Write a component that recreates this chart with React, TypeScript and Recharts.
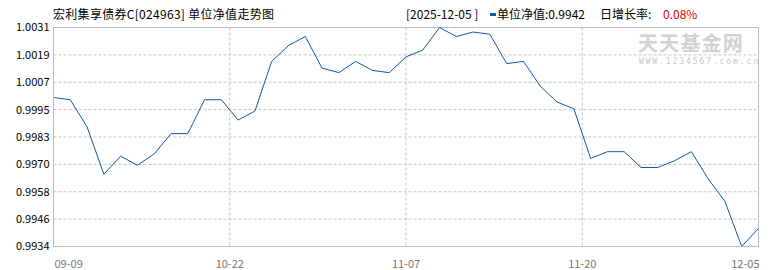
import React from 'react';
import { LineChart, Line, XAxis, YAxis, CartesianGrid, ReferenceArea } from 'recharts';

const dates = [
  '09-09', '09-12', '09-16', '09-19', '09-23', '09-26', '09-30', '10-10', '10-15', '10-17',
  '10-21', '10-22', '10-24', '10-27', '10-28', '10-29', '10-30', '10-31', '11-03', '11-04',
  '11-05', '11-07', '11-08', '11-10', '11-11', '11-12', '11-13', '11-14', '11-17', '11-18',
  '11-19', '11-20', '11-21', '11-24', '11-25', '11-26', '11-27', '11-28', '12-01', '12-02',
  '12-03', '12-04', '12-05',
];

const navValues = [
  1.0000, 0.9999, 0.9987, 0.9966, 0.9974, 0.9970, 0.9975, 0.9984, 0.9984, 0.9999,
  0.9999, 0.9990, 0.9994, 1.0016, 1.0023, 1.0027, 1.0013, 1.0011, 1.0016, 1.0012,
  1.0011, 1.0018, 1.0021, 1.0031, 1.0027, 1.0029, 1.0028, 1.0015, 1.0016, 1.0005,
  0.9998, 0.9995, 0.9973, 0.9976, 0.9976, 0.9969, 0.9969, 0.9972, 0.9976, 0.9964,
  0.9954, 0.9934, 0.9942,
];

const xTickPositions = [0, 10.5, 21, 31.5, 42];
const xTickLabels = ['09-09', '10-22', '11-07', '11-20', '12-05'];

const titleText = '宏利集享债券C[024963] 单位净值走势图';
const headerDate = '[2025-12-05 ]';
const headerNavLabel = '单位净值:';
const headerNav = '0.9942';
const headerRateLabel = '日增长率:';
const headerRate = '0.08%';

const data = navValues.map((v, i) => ({ i, date: dates[i], nav: v }));
const yMin = Math.min(...navValues);
const yMax = Math.max(...navValues);
const yTicks = Array.from({ length: 9 }, (_, k) => yMin + (k * (yMax - yMin)) / 8);

const FONT = '"Noto Sans CJK SC", "DejaVu Sans", sans-serif';
const GRID = '#c4c4c4';
const BORDER = '#bdbdbd';
const LINE = '#0b5aa9';

const XTick = (props: any) => {
  const { x, y, payload, index } = props;
  const last = xTickPositions.length - 1;
  const anchor = index === 0 ? 'start' : index === last ? 'end' : 'middle';
  const label = xTickLabels[xTickPositions.indexOf(payload.value)];
  return (
    <text x={x + (index === 0 ? 1 : index === last ? 1 : 0)} y={y + 13} textAnchor={anchor}
      fill="#777" fontSize={11} fontFamily={FONT}>
      {label}
    </text>
  );
};

export default function App() {
  return (
    <div style={{ position: 'relative', width: 770, height: 270, fontFamily: FONT, background: '#fff' }}>
      <style>{'body{margin:0}'}</style>
      <div style={{ position: 'absolute', left: 53, top: 6, fontSize: 12, lineHeight: '16px', color: '#000', whiteSpace: 'nowrap', letterSpacing: 0.3 }}>
        {titleText}
      </div>
      <div style={{ position: 'absolute', left: 406, top: 6, fontSize: 12, lineHeight: '16px', color: '#000', whiteSpace: 'nowrap' }}>
        {headerDate}
      </div>
      <div style={{ position: 'absolute', left: 490, top: 13, width: 6, height: 3, background: LINE }} />
      <div style={{ position: 'absolute', left: 497, top: 6, fontSize: 12, lineHeight: '16px', color: '#000', whiteSpace: 'nowrap' }}>
        {headerNavLabel}{headerNav}
      </div>
      <div style={{ position: 'absolute', left: 600, top: 6, fontSize: 12, lineHeight: '16px', color: '#000', whiteSpace: 'nowrap' }}>
        {headerRateLabel}
      </div>
      <div style={{ position: 'absolute', left: 663, top: 6, fontSize: 12, lineHeight: '16px', color: '#e00000', whiteSpace: 'nowrap' }}>
        {headerRate}
      </div>
      <LineChart width={770} height={270} data={data}
        margin={{ top: 27.5, right: 11.5, bottom: 0.5, left: 0.5 }}>
        <CartesianGrid stroke={GRID} strokeDasharray="3 2" />
        <XAxis type="number" dataKey="i" domain={[0, dates.length - 1]} ticks={xTickPositions}
          interval={0} height={23} axisLine={{ stroke: BORDER }} tickLine={false} tick={<XTick />} />
        <YAxis type="number" domain={[yMin, yMax]} ticks={yTicks} interval={0} width={53}
          axisLine={{ stroke: BORDER }} tickLine={false} tickSize={0} tickMargin={4}
          tickFormatter={(v: number) => v.toFixed(4)}
          tick={{ fill: '#000', fontSize: 11, fontFamily: FONT }} />
        <ReferenceArea x1={0} x2={dates.length - 1} y1={yMin} y2={yMax} stroke={BORDER} fill="none" fillOpacity={0} />
        <Line type="linear" dataKey="nav" stroke={LINE} strokeWidth={1} dot={false} isAnimationActive={false} />
      </LineChart>
      <div style={{ position: 'absolute', left: 638, top: 34, fontSize: 20, lineHeight: '18px', fontWeight: 700, color: '#d2d2d2', letterSpacing: 1.2, whiteSpace: 'nowrap', background: '#fff' }}>
        天天基金网
      </div>
      <div style={{ position: 'absolute', left: 639, top: 58, fontSize: 8, lineHeight: '8px', color: '#c8c8c8', letterSpacing: 1.9, fontFamily: '"DejaVu Sans Mono", monospace', whiteSpace: 'nowrap' }}>
        WWW.1234567.com.cn
      </div>
    </div>
  );
}
